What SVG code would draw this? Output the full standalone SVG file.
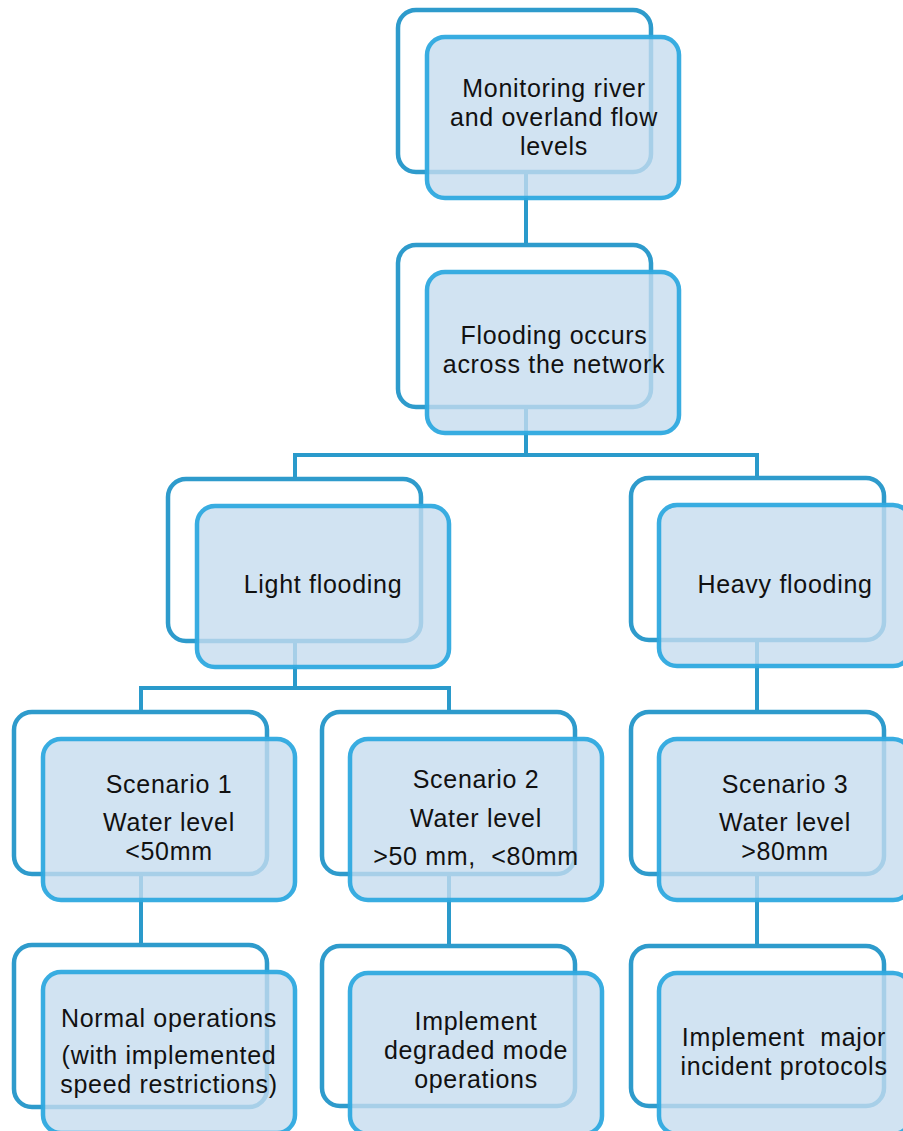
<svg xmlns="http://www.w3.org/2000/svg" width="903" height="1131" viewBox="0 0 903 1131">
<style>
.bk{fill:#ffffff;stroke:#2E9BCC;stroke-width:4.5}
.fr{fill:#C5DCEF;fill-opacity:0.8;stroke:#2EA9DF;stroke-width:4.5;stroke-opacity:0.95}
.cn{fill:none;stroke:#2A9ACB;stroke-width:4}
text{font-family:"Liberation Sans",Arial,sans-serif;font-size:25px;letter-spacing:0.7px;fill:#111111;text-anchor:middle}
</style>
<rect width="903" height="1131" fill="#ffffff"/>
<g id="connectors">
<path class="cn" d="M526 172V245"/>
<path class="cn" d="M526 407V455M295 479V455H757V479"/>
<path class="cn" d="M295 641V688M141 712V688H449V712"/>
<path class="cn" d="M757 640V712"/>
<path class="cn" d="M141 874V945"/>
<path class="cn" d="M449 874V946"/>
<path class="cn" d="M757 874V946"/>
</g>
<g id="n1">
<rect class="bk" x="398" y="10" width="253" height="162" rx="18"/>
<rect class="fr" x="427" y="37" width="252" height="161" rx="18"/>
<text x="554" y="97">Monitoring river</text>
<text x="554" y="126">and overland flow</text>
<text x="554" y="155">levels</text>
</g>
<g id="n2">
<rect class="bk" x="398" y="245" width="253" height="162" rx="18"/>
<rect class="fr" x="427" y="272" width="252" height="161" rx="18"/>
<text x="554" y="344">Flooding occurs</text>
<text x="554" y="373">across the network</text>
</g>
<g id="light">
<rect class="bk" x="168" y="479" width="253" height="162" rx="18"/>
<rect class="fr" x="197" y="506" width="252" height="161" rx="18"/>
<text x="323" y="593">Light flooding</text>
</g>
<g id="heavy">
<rect class="bk" x="631" y="478" width="253" height="162" rx="18"/>
<rect class="fr" x="659" y="505" width="252" height="161" rx="18"/>
<text x="785" y="593">Heavy flooding</text>
</g>
<g id="s1">
<rect class="bk" x="14" y="712" width="253" height="162" rx="18"/>
<rect class="fr" x="43" y="739" width="252" height="161" rx="18"/>
<text x="169" y="793">Scenario 1</text>
<text x="169" y="831">Water level</text>
<text x="169" y="860">&lt;50mm</text>
</g>
<g id="s2">
<rect class="bk" x="322" y="712" width="253" height="162" rx="18"/>
<rect class="fr" x="350" y="739" width="252" height="161" rx="18"/>
<text x="476" y="788">Scenario 2</text>
<text x="476" y="827">Water level</text>
<text x="476" y="865" xml:space="preserve">&gt;50 mm,  &lt;80mm</text>
</g>
<g id="s3">
<rect class="bk" x="631" y="712" width="253" height="162" rx="18"/>
<rect class="fr" x="659" y="739" width="252" height="161" rx="18"/>
<text x="785" y="793">Scenario 3</text>
<text x="785" y="831">Water level</text>
<text x="785" y="860">&gt;80mm</text>
</g>
<g id="o1">
<rect class="bk" x="14" y="945" width="253" height="162" rx="18"/>
<rect class="fr" x="43" y="972" width="252" height="161" rx="18"/>
<text x="169" y="1027">Normal operations</text>
<text x="169" y="1064">(with implemented</text>
<text x="169" y="1093">speed restrictions)</text>
</g>
<g id="o2">
<rect class="bk" x="322" y="946" width="253" height="160" rx="18"/>
<rect class="fr" x="350" y="973" width="252" height="161" rx="18"/>
<text x="476" y="1030">Implement</text>
<text x="476" y="1059">degraded mode</text>
<text x="476" y="1088">operations</text>
</g>
<g id="o3">
<rect class="bk" x="631" y="946" width="253" height="160" rx="18"/>
<rect class="fr" x="659" y="973" width="252" height="161" rx="18"/>
<text x="784" y="1046" xml:space="preserve">Implement  major</text>
<text x="784" y="1075">incident protocols</text>
</g>
</svg>
